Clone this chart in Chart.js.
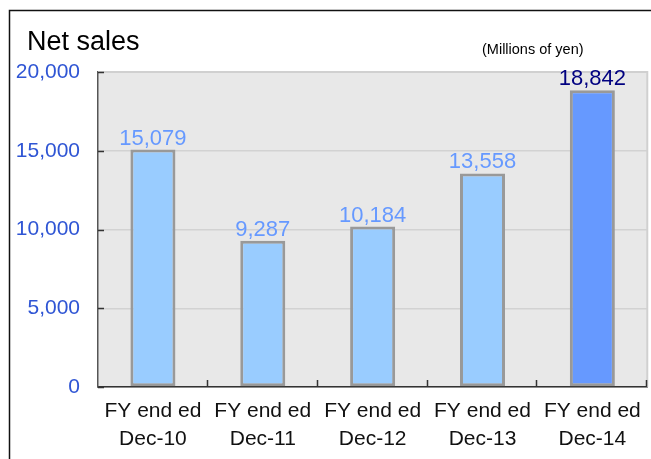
<!DOCTYPE html>
<html>
<head>
<meta charset="utf-8">
<script src="https://cdn.jsdelivr.net/npm/chart.js@4"></script>
<style>
  html, body { margin: 0; padding: 0; background: #fff; }
</style>
</head>
<body>
<canvas id="salesChart" width="651" height="459"></canvas>
<script>
var periods = ['Dec-10', 'Dec-11', 'Dec-12', 'Dec-13', 'Dec-14'];
var netSales = [15079, 9287, 10184, 13558, 18842];
var yTicks = [0, 5000, 10000, 15000, 20000];

var barColors = ['#99ccff', '#99ccff', '#99ccff', '#99ccff', '#6699ff'];
var labelColors = ['#6699ff', '#6699ff', '#6699ff', '#6699ff', '#000080'];
var fontFamily = '"Liberation Sans", Arial, sans-serif';

// background of the plot, frame, heading and the value labels
var decorations = {
    id: 'decorations',
    beforeDraw: function (chart) {
        var ctx = chart.ctx;
        var a = chart.chartArea;
        ctx.save();
        ctx.fillStyle = '#e8e8e8';
        ctx.fillRect(a.left, a.top, a.right - a.left, a.bottom - a.top);
        ctx.restore();
    },
    afterDatasetsDraw: function (chart) {
        var ctx = chart.ctx;
        var a = chart.chartArea;
        var x = chart.scales.x;
        var y = chart.scales.y;
        var step = x.getPixelForValue(1) - x.getPixelForValue(0);
        ctx.save();

        // right and top edges of the plot
        ctx.strokeStyle = '#d0d0d0';
        ctx.lineWidth = 2;
        ctx.beginPath();
        ctx.moveTo(a.left, a.top);
        ctx.lineTo(a.right, a.top);
        ctx.lineTo(a.right, a.bottom);
        ctx.stroke();

        // inward tick marks
        ctx.strokeStyle = '#333';
        ctx.lineWidth = 1.5;
        ctx.beginPath();
        yTicks.forEach(function (v) {
            var py = Math.round(y.getPixelForValue(v)) + 0.5;
            ctx.moveTo(a.left, py);
            ctx.lineTo(a.left + 6, py);
        });
        for (var i = 0; i < periods.length; i++) {
            var px = Math.round(x.getPixelForValue(i) + step / 2) - 0.5;
            ctx.moveTo(px, a.bottom);
            ctx.lineTo(px, a.bottom - 7);
        }
        ctx.stroke();

        // value labels above bars
        var meta = chart.getDatasetMeta(0);
        ctx.font = '22px ' + fontFamily;
        ctx.textAlign = 'center';
        ctx.textBaseline = 'alphabetic';
        meta.data.forEach(function (bar, i) {
            ctx.fillStyle = labelColors[i];
            ctx.fillText(netSales[i].toLocaleString('en-US'), bar.x, bar.y - 5);
        });

        // outer frame
        ctx.strokeStyle = '#111';
        ctx.lineWidth = 1.5;
        ctx.strokeRect(9.5, 10.5, 700, 500);

        // heading and unit
        ctx.fillStyle = '#000';
        ctx.textAlign = 'left';
        ctx.textBaseline = 'middle';
        ctx.font = '27px ' + fontFamily;
        ctx.fillText('Net sales', 27, 43);
        ctx.font = '14.5px ' + fontFamily;
        ctx.fillText('(Millions of yen)', 482, 50);
        ctx.restore();
    }
};

new Chart(document.getElementById('salesChart'), {
    type: 'bar',
    data: {
        labels: periods.map(function (p) { return ['FY end ed', p]; }),
        datasets: [{
            data: netSales,
            backgroundColor: barColors,
            borderColor: '#999999',
            borderWidth: 3,
            borderSkipped: false,
            barPercentage: 0.41,
            categoryPercentage: 1
        }]
    },
    options: {
        responsive: false,
        animation: false,
        layout: { padding: { top: 72, right: 2, left: 0, bottom: 0 } },
        plugins: {
            legend: { display: false },
            tooltip: { enabled: false }
        },
        scales: {
            x: {
                grid: { display: false, drawTicks: false },
                border: { color: '#333', width: 1.5 },
                ticks: {
                    color: '#111',
                    padding: 10,
                    maxRotation: 0,
                    autoSkip: false,
                    font: { family: fontFamily, size: 21, lineHeight: 1.33 }
                },
                afterFit: function (scale) { scale.height = 72; }
            },
            y: {
                min: 0,
                max: 20000,
                grid: { color: '#d2d2d2', lineWidth: 1.5, drawTicks: false },
                border: { color: '#555', width: 1.5 },
                afterBuildTicks: function (scale) {
                    scale.ticks = yTicks.map(function (v) { return { value: v }; });
                },
                ticks: {
                    color: '#2f55d4',
                    padding: 18,
                    font: { family: fontFamily, size: 21 },
                    callback: function (v) { return v.toLocaleString('en-US'); }
                },
                afterFit: function (scale) { scale.width = 98; }
            }
        }
    },
    plugins: [decorations]
});
</script>
</body>
</html>
